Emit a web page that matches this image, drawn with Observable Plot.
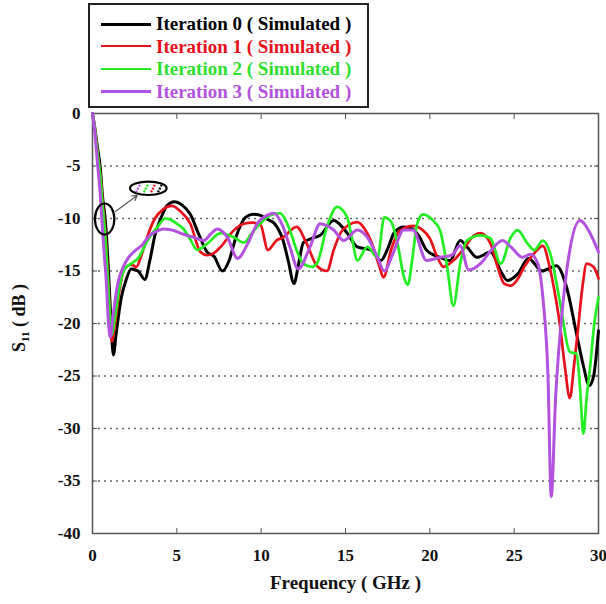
<!DOCTYPE html>
<html><head><meta charset="utf-8">
<script src="https://cdn.jsdelivr.net/npm/d3@7"></script>
<script src="https://cdn.jsdelivr.net/npm/@observablehq/plot@0.6"></script>
<style>
body{margin:0;background:#fff;}
#wrap{position:relative;width:606px;height:604px;font-family:"Liberation Serif","Times New Roman",serif;}
#legend{position:absolute;left:88px;top:3px;width:277px;height:101px;border:2px solid #222;background:#fff;}
.row{position:absolute;left:0;width:277px;height:22px;}
.sw{position:absolute;left:11px;width:50px;top:11px;}
.lab{position:absolute;left:66px;top:0;line-height:22px;font-weight:bold;font-size:19px;white-space:nowrap;}
</style></head><body>
<div id="wrap"><div id="chart"></div><div id="legend"></div></div>
<script>
// ---- data (frequency in GHz, S11 in dB) ----
const seriesNames = ["Iteration 0 ( Simulated )","Iteration 1 ( Simulated )","Iteration 2 ( Simulated )","Iteration 3 ( Simulated )"];
const seriesColors = ["#000000","#e8101a","#22ee22","#b452e0"];
const seriesWidths = [3,2.7,2.7,3];

const iter0F = [0,0.15,0.3,0.45,0.6,0.75,0.95,1.1,1.24,1.4,1.7,2.0,2.3,2.7,3.1,3.4,3.7,4.1,4.4,4.85,5.3,5.8,6.3,6.8,7.2,7.7,8.1,8.5,9.07,9.5,9.96,10.4,10.8,11.3,11.6,11.95,12.2,12.5,13.0,13.5,14.3,14.8,15.1,15.7,16.5,17.1,17.5,17.9,18.45,19.0,19.4,19.8,20.6,21.2,21.8,22.2,22.8,23.6,24.2,24.6,25.2,25.85,26.65,27.5,28.1,28.7,29.1,29.45,29.7,30];
const iter0S = [0,-1.5,-3.3,-5,-8,-10,-15,-20,-23,-21,-17.6,-15.8,-14.8,-15,-15.8,-14,-11.6,-9.8,-8.8,-8.4,-8.7,-9.6,-11.5,-13.2,-13.6,-15.0,-14.0,-11.8,-9.9,-9.6,-9.7,-10.1,-10.5,-12.1,-14,-16.2,-14.5,-12.3,-11.9,-11.6,-10.2,-10.8,-11.4,-12.7,-13.0,-14.0,-12.9,-11.3,-10.8,-11.0,-11.8,-13.0,-13.7,-14.0,-12.1,-12.7,-13.7,-13.2,-15.0,-15.9,-15.3,-13.8,-15.0,-14.5,-16.5,-21.0,-24,-25.9,-25.1,-20.7];

const iter1F = [0,0.15,0.3,0.45,0.6,0.75,0.9,1.05,1.15,1.3,1.6,1.9,2.3,2.6,2.9,3.3,3.7,4.2,4.7,5.2,5.8,6.4,6.8,7.2,7.6,8.4,8.97,9.5,9.96,10.4,10.9,11.3,12.1,12.7,13.3,13.9,14.3,14.7,15.2,15.7,16.1,16.5,17.0,17.25,17.7,18.1,18.5,19.0,19.5,20.0,20.4,20.8,21.4,22.0,22.5,23.0,23.6,24.0,24.4,24.8,25.2,25.6,26.2,26.7,27.1,27.4,27.7,28.0,28.3,28.55,28.8,29.05,29.3,29.7,30];
const iter1S = [0,-1.6,-3.8,-5.6,-8.5,-11,-15,-19.5,-21.7,-20.5,-16.8,-14.8,-14.4,-14.6,-13.5,-11.5,-10.0,-9.1,-8.8,-9.3,-10.5,-13.2,-13.5,-13.3,-12.7,-11.1,-10.5,-10.4,-10.6,-13.0,-12.1,-11.8,-10.8,-12.4,-14.5,-15.0,-13.0,-11.4,-10.6,-10.35,-10.9,-12.1,-14.5,-15.6,-13.0,-11.4,-10.9,-10.7,-11.0,-11.9,-13.5,-14.6,-14.0,-12.9,-11.8,-11.4,-12.4,-14.5,-16.2,-16.4,-15.8,-14.6,-13.3,-12.6,-14.6,-17,-20.0,-24,-27.1,-24,-20.3,-16.5,-14.3,-14.6,-15.7];

const iter2F = [0,0.15,0.3,0.45,0.6,0.75,0.9,1.05,1.15,1.3,1.6,1.9,2.3,2.7,3.3,3.9,4.3,4.6,5.0,5.4,5.8,6.2,6.8,7.6,8.4,8.97,9.4,9.76,10.55,11.1,11.7,12.1,12.5,13.0,13.3,13.9,14.5,15.1,15.4,15.7,16.3,16.9,17.3,17.7,18.1,18.45,18.7,18.95,19.25,19.6,20.2,20.6,21.0,21.4,21.8,22.2,23.0,23.6,24.2,24.8,25.2,25.8,26.2,26.7,27.15,27.7,28.3,28.7,28.9,29.1,29.3,29.5,29.75,30];
const iter2S = [0,-1.6,-3.8,-5.8,-8.8,-11.5,-15.5,-19.5,-21.1,-19.8,-16.5,-14.8,-14.3,-13.8,-12.0,-10.7,-10.0,-10.1,-10.5,-11.0,-12.0,-13.0,-12.4,-11.4,-11.8,-12.3,-11.5,-10.8,-9.7,-9.5,-11.1,-13.0,-14.3,-14.6,-14.3,-10.8,-8.9,-9.9,-12,-14.0,-12.7,-13.7,-9.9,-10.3,-12.5,-15.5,-16.3,-14,-10.5,-9.6,-10.2,-11.1,-14.3,-18.3,-14.3,-12.1,-11.6,-11.9,-14.3,-11.8,-11.1,-12.4,-13.0,-12.1,-13.4,-17.8,-22.7,-22.9,-26,-30.5,-27,-24.2,-20,-17.5];

const iter3F = [0,0.15,0.3,0.45,0.55,0.7,0.8,0.95,1.05,1.2,1.5,1.8,2.1,2.5,2.9,3.4,3.7,4.2,4.7,5.4,6.0,6.6,7.0,7.4,8.0,8.6,9.2,9.76,10.35,10.75,11.3,11.7,12.2,12.9,13.5,14.3,14.9,15.7,16.3,16.9,17.3,17.8,18.45,19.0,19.8,20.6,21.3,21.8,22.3,23.0,23.6,24.3,24.8,25.5,25.96,26.4,26.7,27.0,27.2,27.45,27.85,28.3,28.9,29.5,30];
const iter3S = [0,-2.0,-4.8,-7.5,-10,-13.5,-15.5,-20,-21.3,-19.5,-16.2,-14.7,-13.8,-13.1,-12.6,-11.6,-11.3,-11.0,-11.1,-11.5,-11.8,-12.1,-11.5,-11.0,-11.8,-13.8,-12.4,-10.5,-9.7,-9.5,-10.8,-12.7,-14.8,-12.7,-10.5,-11.1,-12.1,-11.1,-11.8,-13.7,-15.0,-13.4,-11.1,-11.1,-14.0,-13.7,-13.5,-12.6,-14.9,-14.3,-13.1,-12.1,-12.7,-13.7,-13.4,-14.3,-17.5,-24.8,-36.5,-27.3,-18.8,-13.0,-10.2,-11.4,-13.2];

const xTicks = [0,5,10,15,20,25,30];
const yTicks = [0,-5,-10,-15,-20,-25,-30,-35,-40];

// annotation: big ellipse around the descent, small ellipse with colour stripes, arrow between them
const ellipseCenters = [{f:0.75, s:-10.1, rf:0.575, rs:1.48}, {f:3.34, s:-7.17, rf:1.085, rs:0.64}];
const stripeOffsets = [-0.61,-0.14,0.28,0.69];
const stripeColors = ["#b452e0","#22ee22","#e8101a","#000000"];
const arrowData = [{x1:1.36, y1:-9.33, x2:2.65, y2:-7.8}];

// ---- build ----
const allF = [iter0F, iter1F, iter2F, iter3F];
const allS = [iter0S, iter1S, iter2S, iter3S];
const rows = [];
allF.forEach((fs, k) => fs.forEach((f, i) => rows.push({series: seriesNames[k], f, s: allS[k][i]})));

const lineMarks = seriesNames.map((name, k) =>
  Plot.line(rows.filter(d => d.series === name), {x: "f", y: "s", stroke: seriesColors[k], strokeWidth: seriesWidths[k], curve: "monotone-x", strokeLinejoin: "round"}));

const annotationMark = (index, scales) => {
  const x = scales.x, y = scales.y;
  const g = d3.create("svg:g");
  ellipseCenters.forEach(e => {
    const cx = x(e.f), cy = y(e.s);
    g.append("ellipse").attr("cx", cx).attr("cy", cy)
      .attr("rx", Math.abs(x(e.f + e.rf) - cx)).attr("ry", Math.abs(y(e.s + e.rs) - cy))
      .attr("fill", "none").attr("stroke", "#000").attr("stroke-width", 2.2);
  });
  const e = ellipseCenters[1];
  stripeOffsets.forEach((o, i) => {
    const sx = x(e.f + o), cy = y(e.s);
    g.append("line").attr("x1", sx - 2).attr("y1", cy + 4).attr("x2", sx + 2).attr("y2", cy - 4)
      .attr("stroke", stripeColors[i]).attr("stroke-width", 2.2).attr("stroke-dasharray", "2,1.2");
  });
  return g.node();
};

const yLabelMark = () => {
  const t = d3.create("svg:text")
    .attr("transform", "translate(25,318) rotate(-90)")
    .attr("text-anchor", "middle")
    .attr("font-size", 18).attr("font-weight", "bold").attr("fill", "#111");
  t.append("tspan").text("S");
  t.append("tspan").attr("font-size", 11).attr("dy", 4).text("11");
  t.append("tspan").attr("dy", -4).text(" ( dB )");
  return t.node();
};

const plot = Plot.plot({
  width: 606, height: 604,
  marginLeft: 92, marginRight: 8, marginTop: 113, marginBottom: 71,
  style: {fontFamily: "'Liberation Serif', 'Times New Roman', serif", fontSize: "17px", fontWeight: "bold", background: "#fff", color: "#111", overflow: "visible"},
  x: {domain: [0, 30]},
  y: {domain: [-40, 0]},
  marks: [
    Plot.gridY(yTicks.slice(1, -1), {stroke: "#666", strokeOpacity: 1, strokeDasharray: "2,4", strokeWidth: 1.3}),
    Plot.axisX(xTicks, {anchor: "bottom", tickSize: -5, tickPadding: 20, tickFormat: d => String(d), label: null, stroke: "#555"}),
    Plot.axisX(xTicks, {anchor: "top", tickSize: -5, tickFormat: () => "", label: null, stroke: "#555"}),
    Plot.axisY(yTicks, {anchor: "left", tickSize: -5, tickPadding: 17, tickFormat: d => String(d), label: null, stroke: "#555"}),
    Plot.axisY(yTicks, {anchor: "right", tickSize: -5, tickFormat: () => "", label: null, stroke: "#555"}),
    Plot.frame({stroke: "#555", strokeWidth: 1.5}),
    ...lineMarks,
    Plot.arrow(arrowData, {x1: "x1", y1: "y1", x2: "x2", y2: "y2", stroke: "#555", strokeWidth: 1.2, headLength: 7}),
    annotationMark,
    Plot.text(["Frequency ( GHz )"], {frameAnchor: "bottom", dy: 55, fontSize: 19, fontWeight: "bold", fill: "#111"}),
    yLabelMark
  ]
});
document.getElementById("chart").appendChild(plot);

// legend
const legend = document.getElementById("legend");
const rowTops = [8, 30.5, 53, 75.5];
seriesNames.forEach((name, k) => {
  const r = document.createElement("div");
  r.className = "row"; r.style.top = (rowTops[k]) + "px";
  const sw = document.createElement("div");
  sw.className = "sw";
  sw.style.borderTop = seriesWidths[k] + "px solid " + seriesColors[k];
  sw.style.marginTop = (-seriesWidths[k] / 2) + "px";
  const lb = document.createElement("div");
  lb.className = "lab"; lb.style.color = seriesColors[k] === "#22ee22" ? "#2ee02e" : seriesColors[k];
  lb.textContent = name;
  r.appendChild(sw); r.appendChild(lb);
  legend.appendChild(r);
});
</script>
</body></html>
